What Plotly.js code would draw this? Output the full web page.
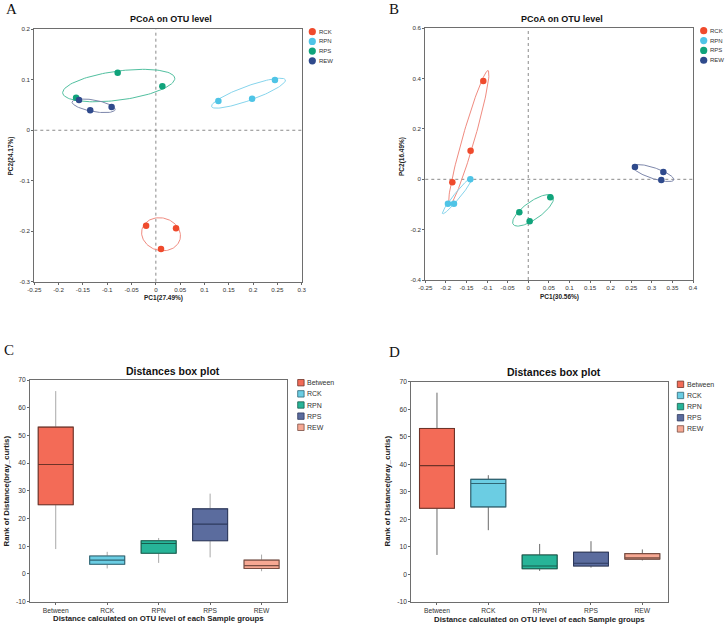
<!DOCTYPE html>
<html><head><meta charset="utf-8">
<script src="https://cdn.plot.ly/plotly-3.0.1.min.js"></script>
<style>html,body{margin:0;padding:0;background:#fff}#chart{width:726px;height:627px}</style>
</head><body><div id="chart"></div>
<script>
// ---------------- DATA ----------------
const groups = ['RCK', 'RPN', 'RPS', 'REW'];
// Panel A (PCoA, PC1 27.49%, PC2 24.17%)
const A_RCK_PC1 = [-0.020, 0.0415, 0.0106], A_RCK_PC2 = [-0.189, -0.194, -0.235];
const A_RPN_PC1 = [0.1286, 0.198, 0.245],   A_RPN_PC2 = [0.058, 0.0626, 0.0996];
const A_RPS_PC1 = [-0.164, -0.0785, 0.0134], A_RPS_PC2 = [0.0646, 0.114, 0.087];
const A_REW_PC1 = [-0.158, -0.135, -0.091], A_REW_PC2 = [0.060, 0.0395, 0.046];
// Panel B (PCoA, PC1 30.56%, PC2 16.49%)
const B_RCK_PC1 = [-0.1844, -0.140, -0.1092], B_RCK_PC2 = [-0.012, 0.114, 0.391];
const B_RPN_PC1 = [-0.1407, -0.195, -0.1804], B_RPN_PC2 = [0.000, -0.0967, -0.0967];
const B_RPS_PC1 = [-0.0217, 0.0034, 0.0535], B_RPS_PC2 = [-0.131, -0.167, -0.0715];
const B_REW_PC1 = [0.259, 0.328, 0.323],     B_REW_PC2 = [0.049, 0.029, -0.003];
const A_xticks = [-0.25, -0.2, -0.15, -0.1, -0.05, 0, 0.05, 0.1, 0.15, 0.2, 0.25, 0.3];
const A_yticks = [-0.3, -0.2, -0.1, 0, 0.1, 0.2];
const B_xticks = [-0.25, -0.2, -0.15, -0.1, -0.05, 0, 0.05, 0.1, 0.15, 0.2, 0.25, 0.3, 0.35, 0.4];
const B_yticks = [-0.4, -0.2, 0, 0.2, 0.4, 0.6];
// Panels C and D (Distances box plot)
const boxGroups = ['Between', 'RCK', 'RPN', 'RPS', 'REW'];
const C_lower  = [9, 2, 4, 6, 1];
const C_q1     = [25, 3.5, 7.5, 12, 2];
const C_median = [39.5, 5, 11, 18, 3];
const C_q3     = [53, 6.5, 12, 23.5, 5];
const C_upper  = [66, 8, 13, 29, 7];
const D_lower  = [7, 16, 1.2, 2.4, 5];
const D_q1     = [24, 24.5, 2, 3, 5.5];
const D_median = [39.5, 33, 3, 4, 6];
const D_q3     = [53, 34.5, 7, 8, 7.5];
const D_upper  = [66, 36, 11, 12, 9];
const boxYticks = [-10, 0, 10, 20, 30, 40, 50, 60, 70];

// ---------------- STYLE ----------------
const W = 726, H = 627;
const px = v => v / W, py = v => 1 - v / H;
const FONT = 'Liberation Sans, Arial, sans-serif';
const groupColors = ['#EF4A2C', '#4FC4E6', '#10A37B', '#2F4A8C'];
const ellipseColors = ['#F08B80', '#86D4EC', '#52C0A0', '#7D87AB'];
const boxColors = ['#F36B57', '#6BCDE3', '#27B498', '#5B6C9E', '#F7A893'];
const boxBorders = ['#6E3328', '#2F6675', '#165E4E', '#2E3A5E', '#7A4E42'];
const K = 1.3;

function ellipse(xs, ys, k) {
  const n = xs.length;
  const mx = xs.reduce((a, b) => a + b, 0) / n, my = ys.reduce((a, b) => a + b, 0) / n;
  let sxx = 0, syy = 0, sxy = 0;
  for (let i = 0; i < n; i++) {
    sxx += (xs[i] - mx) ** 2; syy += (ys[i] - my) ** 2; sxy += (xs[i] - mx) * (ys[i] - my);
  }
  sxx /= (n - 1); syy /= (n - 1); sxy /= (n - 1);
  const T = sxx + syy, D = sxx * syy - sxy * sxy;
  const r = Math.sqrt(Math.max(T * T / 4 - D, 0));
  const l1 = T / 2 + r, l2 = Math.max(T / 2 - r, 0);
  const th = 0.5 * Math.atan2(2 * sxy, sxx - syy);
  const a = k * Math.sqrt(l1), b = k * Math.sqrt(l2);
  const ex = [], ey = [];
  for (let i = 0; i <= 120; i++) {
    const t = 2 * Math.PI * i / 120;
    ex.push(mx + a * Math.cos(t) * Math.cos(th) - b * Math.sin(t) * Math.sin(th));
    ey.push(my + a * Math.cos(t) * Math.sin(th) + b * Math.sin(t) * Math.cos(th));
  }
  return [ex, ey];
}

const traces = [];
function pcoa(xs, ys, xa, ya) {
  xs.forEach((x, i) => {
    const [ex, ey] = ellipse(x, ys[i], K);
    traces.push({type: 'scatter', mode: 'lines', x: ex, y: ey, xaxis: xa, yaxis: ya,
      line: {color: ellipseColors[i], width: 1}, hoverinfo: 'skip', showlegend: false});
  });
  xs.forEach((x, i) => {
    traces.push({type: 'scatter', mode: 'markers', name: groups[i], x: x, y: ys[i], xaxis: xa, yaxis: ya,
      marker: {color: groupColors[i], size: 6.5}, showlegend: false});
  });
}
pcoa([A_RCK_PC1, A_RPN_PC1, A_RPS_PC1, A_REW_PC1], [A_RCK_PC2, A_RPN_PC2, A_RPS_PC2, A_REW_PC2], 'x', 'y');
pcoa([B_RCK_PC1, B_RPN_PC1, B_RPS_PC1, B_REW_PC1], [B_RCK_PC2, B_RPN_PC2, B_RPS_PC2, B_REW_PC2], 'x2', 'y2');

function boxes(lo, q1, med, q3, up, xa, ya, whiskerColor) {
  boxGroups.forEach((g, i) => {
    const base = {type: 'box', x: [g], median: [med[i]], q1: [q1[i]], q3: [q3[i]], xaxis: xa, yaxis: ya,
      fillcolor: boxColors[i], whiskerwidth: 0, width: 0.68, boxpoints: false, hoverinfo: 'skip', showlegend: false};
    traces.push(Object.assign({}, base, {lowerfence: [lo[i]], upperfence: [up[i]], line: {color: whiskerColor, width: 1}}));
    traces.push(Object.assign({}, base, {name: g, lowerfence: [q1[i]], upperfence: [q3[i]], line: {color: boxBorders[i], width: 1.1}}));
  });
}
boxes(C_lower, C_q1, C_median, C_q3, C_upper, 'x3', 'y3', '#A8A8A8');
boxes(D_lower, D_q1, D_median, D_q3, D_upper, 'x4', 'y4', '#6A6A6A');

const fmt = v => String(+v.toFixed(2));
function numAxis(domain, range, ticks, anchor, fs) {
  return {domain, range, autorange: false, anchor, tickmode: 'array', tickvals: ticks, ticktext: ticks.map(fmt),
    ticks: 'outside', ticklen: 2, tickwidth: 1, tickcolor: '#666', showline: true, linecolor: '#6E6E6E', linewidth: 1,
    mirror: true, showgrid: false, zeroline: false, tickfont: {family: FONT, size: fs, color: '#333'}};
}
const layout = {
  width: W, height: H, margin: {l: 0, r: 0, t: 0, b: 0}, paper_bgcolor: '#fff', plot_bgcolor: '#fff',
  showlegend: false, boxmode: 'overlay',
  xaxis:  numAxis([px(34.3), px(301.7)], [-0.25, 0.3], A_xticks, 'y', 6.2),
  yaxis:  numAxis([py(281.7), py(29.3)], [-0.3, 0.2], A_yticks, 'x', 6.2),
  xaxis2: numAxis([px(425.3), px(693)], [-0.25, 0.4], B_xticks, 'y2', 6.2),
  yaxis2: numAxis([py(280), py(28.3)], [-0.4, 0.6], B_yticks, 'x2', 6.2),
  xaxis3: Object.assign(numAxis([px(30), px(287.3)], [-0.5, 4.5], [], 'y3', 6.7),
    {type: 'category', tickmode: 'auto', tickvals: undefined, ticktext: undefined, categoryorder: 'array', categoryarray: boxGroups}),
  yaxis3: numAxis([py(601.7), py(380)], [-10, 70], boxYticks, 'x3', 6.7),
  xaxis4: Object.assign(numAxis([px(411.3), px(668)], [-0.5, 4.5], [], 'y4', 6.7),
    {type: 'category', tickmode: 'auto', tickvals: undefined, ticktext: undefined, categoryorder: 'array', categoryarray: boxGroups}),
  yaxis4: numAxis([py(601.7), py(381.7)], [-10, 70], boxYticks, 'x4', 6.7),
  shapes: [], annotations: []
};

// dotted zero lines
[['x', 'y'], ['x2', 'y2']].forEach(([xa, ya]) => {
  layout.shapes.push({type: 'line', xref: xa, yref: ya + ' domain', x0: 0, x1: 0, y0: 0, y1: 1, line: {color: '#8A8A8A', width: 1, dash: 'dot'}, layer: 'below'});
  layout.shapes.push({type: 'line', xref: xa + ' domain', yref: ya, x0: 0, x1: 1, y0: 0, y1: 0, line: {color: '#8A8A8A', width: 1, dash: 'dot'}, layer: 'below'});
});

function text(t, x, y, size, opts) {
  layout.annotations.push(Object.assign({text: t, x: px(x), y: py(y), xref: 'paper', yref: 'paper', showarrow: false,
    xanchor: 'center', yanchor: 'middle', font: {family: FONT, size: size, color: '#111'}}, opts || {}));
}
// panel letters
const serif = {family: 'Liberation Serif, Times New Roman, serif', size: 15, color: '#111'};
text('A', 11, 8.5, 15, {font: serif});
text('B', 394, 8.5, 15, {font: serif});
text('C', 9, 350, 15, {font: serif});
text('D', 394, 352, 15, {font: serif});
// titles
const bold = (s, c) => ({family: FONT, size: s, color: c || '#111', weight: 'bold'});
text('PCoA on OTU level', 171, 19, 9, {font: bold(9)});
text('PCoA on OTU level', 562, 18.7, 9, {font: bold(9)});
text('Distances box plot', 172.7, 370.7, 10.5, {font: bold(10.5)});
text('Distances box plot', 553.7, 372.3, 10.5, {font: bold(10.5)});
// axis titles
text('PC1(27.49%)', 163, 298, 6.5, {font: bold(6.5, '#222')});
text('PC2(24.17%)', 10.5, 156, 6.5, {font: bold(6.5, '#222'), textangle: -90});
text('PC1(30.56%)', 559, 297.5, 6.5, {font: bold(6.5, '#222')});
text('PC2(16.49%)', 402, 157, 6.5, {font: bold(6.5, '#222'), textangle: -90});
text('Distance calculated on OTU level of each Sample groups', 158.5, 618.8, 7.8, {font: bold(7.8, '#222')});
text('Rank of Distance(bray_curtis)', 5.5, 491, 7.8, {font: bold(7.8, '#222'), textangle: -90});
text('Distance calculated on OTU level of each Sample groups', 539.5, 619.3, 7.8, {font: bold(7.8, '#222')});
text('Rank of Distance(bray_curtis)', 387, 491.5, 7.8, {font: bold(7.8, '#222'), textangle: -90});

// legends (PCoA: circles; box plots: squares)
function circleLegend(cx, cy0, step, tx) {
  groups.forEach((g, i) => {
    const cy = cy0 + i * step;
    layout.shapes.push({type: 'circle', xref: 'paper', yref: 'paper', xsizemode: 'pixel', ysizemode: 'pixel',
      xanchor: px(cx), yanchor: py(cy), x0: -3.6, x1: 3.6, y0: -3.6, y1: 3.6, fillcolor: groupColors[i], line: {width: 0}});
    text(g, tx, cy, 6, {xanchor: 'left', font: {family: FONT, size: 6, color: '#333'}});
  });
}
circleLegend(312.3, 31.7, 9.7, 316.5);
circleLegend(703.7, 30.7, 9.85, 707.8);
function squareLegend(x0, cy0, step, tx) {
  boxGroups.forEach((g, i) => {
    const cy = cy0 + i * step;
    layout.shapes.push({type: 'rect', xref: 'paper', yref: 'paper', xsizemode: 'pixel', ysizemode: 'pixel',
      xanchor: px(x0), yanchor: py(cy), x0: 0, x1: 6.4, y0: -3.2, y1: 3.2, fillcolor: boxColors[i], line: {color: boxBorders[i], width: 0.8}});
    text(g, tx, cy, 7, {xanchor: 'left', font: {family: FONT, size: 7, color: '#333'}});
  });
}
squareLegend(297.7, 382.7, 11.15, 305.3);
squareLegend(677.3, 384.3, 11.15, 685);

Plotly.newPlot('chart', traces, layout, {staticPlot: true, displayModeBar: false});
</script>
</body></html>
